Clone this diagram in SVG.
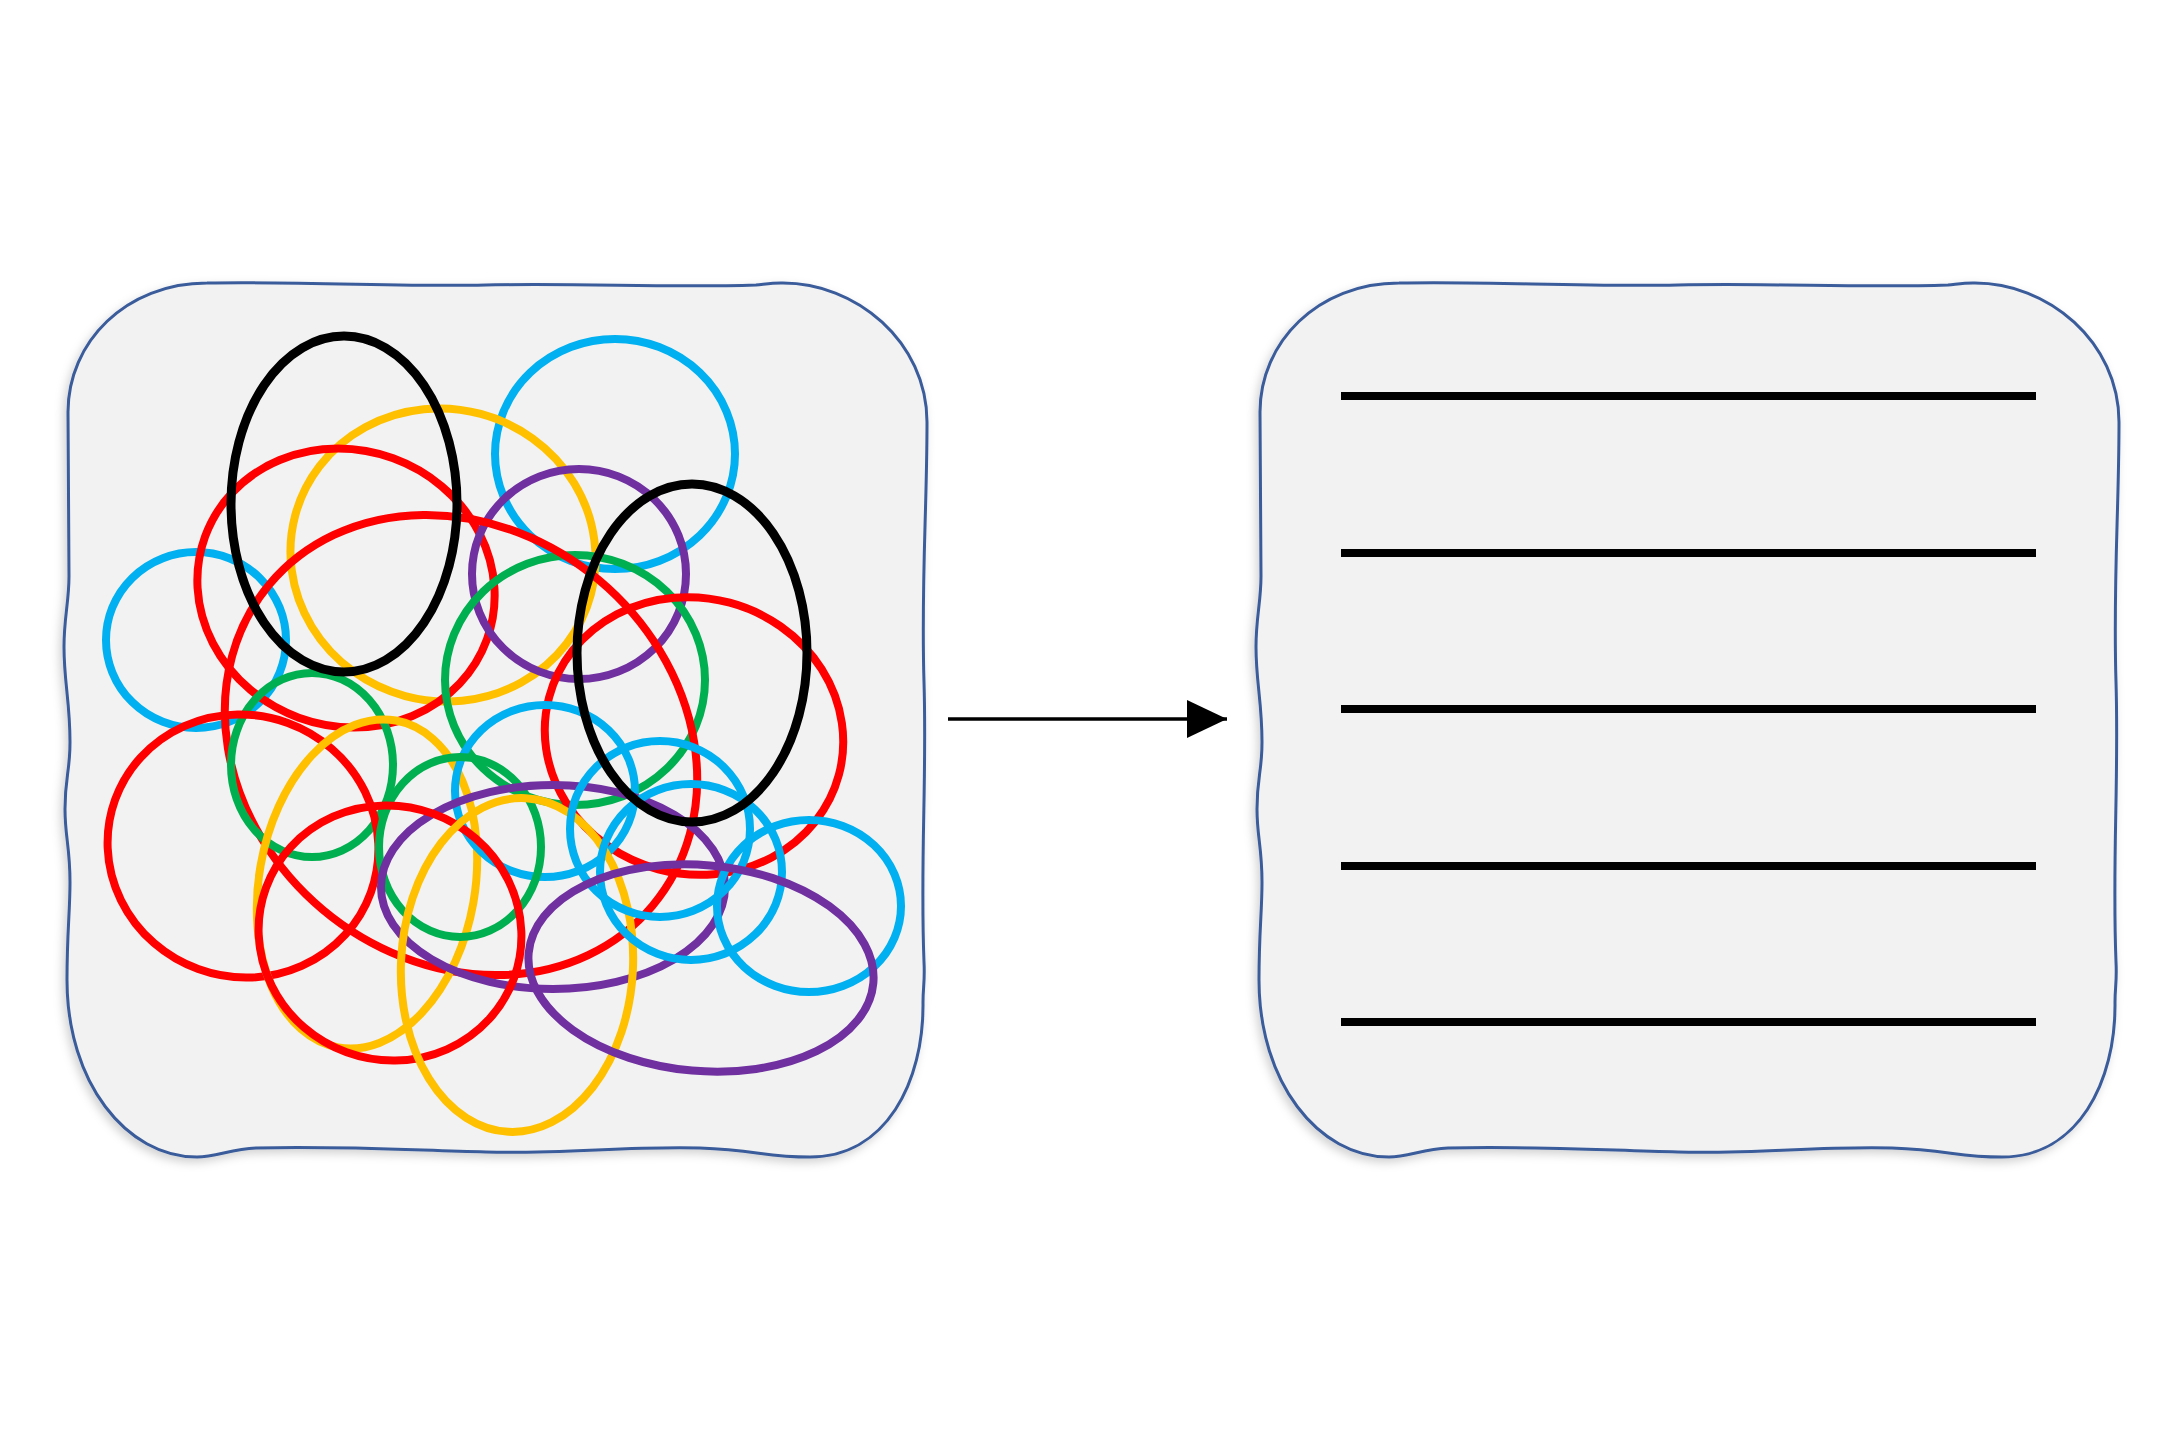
<svg xmlns="http://www.w3.org/2000/svg" width="2176" height="1451" viewBox="0 0 2176 1451">
  <style>
    .panel { fill: #F2F2F2; stroke: #3B5C9A; stroke-width: 3; }
    .band { fill: none; stroke-width: 8; }
    .red { stroke: #FF0000; }
    .yel { stroke: #FFC000; }
    .cya { stroke: #00B0F0; }
    .grn { stroke: #00B050; }
    .pur { stroke: #7030A0; }
    .blk { stroke: #000000; stroke-width: 9; }
    .row { stroke: #000000; stroke-width: 8; }
    .conn { stroke: #000000; stroke-width: 3.5; fill: none; }
  </style>
  <defs>
    <filter id="shadow" x="-10%" y="-10%" width="120%" height="120%">
      <feDropShadow dx="-3" dy="4" stdDeviation="5" flood-color="#000000" flood-opacity="0.18"/>
    </filter>
    <path id="wavy" d="M 141,1 C 230,-1 320,5 420,3 C 520,1 600,6 690,3 C 700,2 705,1 715,1 C 790,0 861,60 861,140 C 861,230 855,300 858,400 C 861,500 854,580 858,680 C 859,700 857,705 857,720 C 858,800 820,875 744,875 C 700,875 690,868 634,866 C 560,864 500,872 420,870 C 340,868 280,864 190,866 C 165,867 150,875 131,875 C 60,875 1,800 1,698 C 1,650 4,630 4,600 C 4,565 -1,555 -1,527 C -1,495 4,490 4,460 C 4,420 -2,400 -2,365 C -2,335 3,320 3,294 C 3,250 2,200 2,130 C 2,60 60,1 141,1 Z"/>
    <marker id="arrow" viewBox="0 0 40 38" refX="40" refY="19" markerWidth="40" markerHeight="38" markerUnits="userSpaceOnUse" orient="auto">
      <path d="M 0,0 L 40,19 L 0,38 Z" fill="#000000"/>
    </marker>
  </defs>
  <rect width="2176" height="1451" fill="#FFFFFF"/>

  <g id="tangled">
    <use href="#wavy" class="panel" transform="translate(66,282)" filter="url(#shadow)"/>
    <ellipse class="band cya" cx="615" cy="454" rx="120" ry="115"/>
    <ellipse class="band cya" cx="196" cy="640" rx="90" ry="88"/>
    <ellipse class="band yel" cx="443" cy="555" rx="153" ry="146" transform="rotate(15 443 555)"/>
    <ellipse class="band red" cx="346" cy="588" rx="150" ry="138" transform="rotate(20 346 588)"/>
    <ellipse class="band pur" cx="579" cy="574" rx="107" ry="105"/>
    <ellipse class="band grn" cx="575" cy="680" rx="130" ry="125"/>
    <ellipse class="band red" cx="461" cy="745" rx="250" ry="215" transform="rotate(40 461 745)"/>
    <ellipse class="band red" cx="694" cy="736" rx="150" ry="138" transform="rotate(15 694 736)"/>
    <ellipse class="band grn" cx="312" cy="765" rx="81" ry="92"/>
    <ellipse class="band red" cx="243" cy="846" rx="136" ry="131" transform="rotate(20 243 846)"/>
    <ellipse class="band yel" cx="367" cy="884" rx="108" ry="166" transform="rotate(10 367 884)"/>
    <ellipse class="band cya" cx="545" cy="791" rx="90" ry="86"/>
    <ellipse class="band grn" cx="460" cy="847" rx="81" ry="90"/>
    <ellipse class="band pur" cx="553" cy="887" rx="172" ry="102"/>
    <ellipse class="band red" cx="390" cy="933" rx="132" ry="127" transform="rotate(20 390 933)"/>
    <ellipse class="band yel" cx="517" cy="965" rx="116" ry="167" transform="rotate(3 517 965)"/>
    <ellipse class="band cya" cx="660" cy="829" rx="90" ry="88"/>
    <ellipse class="band cya" cx="691" cy="872" rx="91" ry="88"/>
    <ellipse class="band cya" cx="809" cy="906" rx="92" ry="86"/>
    <ellipse class="band pur" cx="701" cy="968" rx="173" ry="103" transform="rotate(5 701 968)"/>
    <ellipse class="band blk" cx="344" cy="504" rx="113" ry="168"/>
    <ellipse class="band blk" cx="692" cy="653" rx="115" ry="169"/>
  </g>

  <g id="ordered">
    <use href="#wavy" class="panel" transform="translate(1258,282)" filter="url(#shadow)"/>
    <line class="row" x1="1341" y1="396" x2="2036" y2="396"/>
    <line class="row" x1="1341" y1="553" x2="2036" y2="553"/>
    <line class="row" x1="1341" y1="709" x2="2036" y2="709"/>
    <line class="row" x1="1341" y1="866" x2="2036" y2="866"/>
    <line class="row" x1="1341" y1="1022" x2="2036" y2="1022"/>
  </g>

  <g id="connectors">
    <line class="conn" x1="948" y1="719" x2="1227" y2="719" marker-end="url(#arrow)"/>
  </g>
</svg>
